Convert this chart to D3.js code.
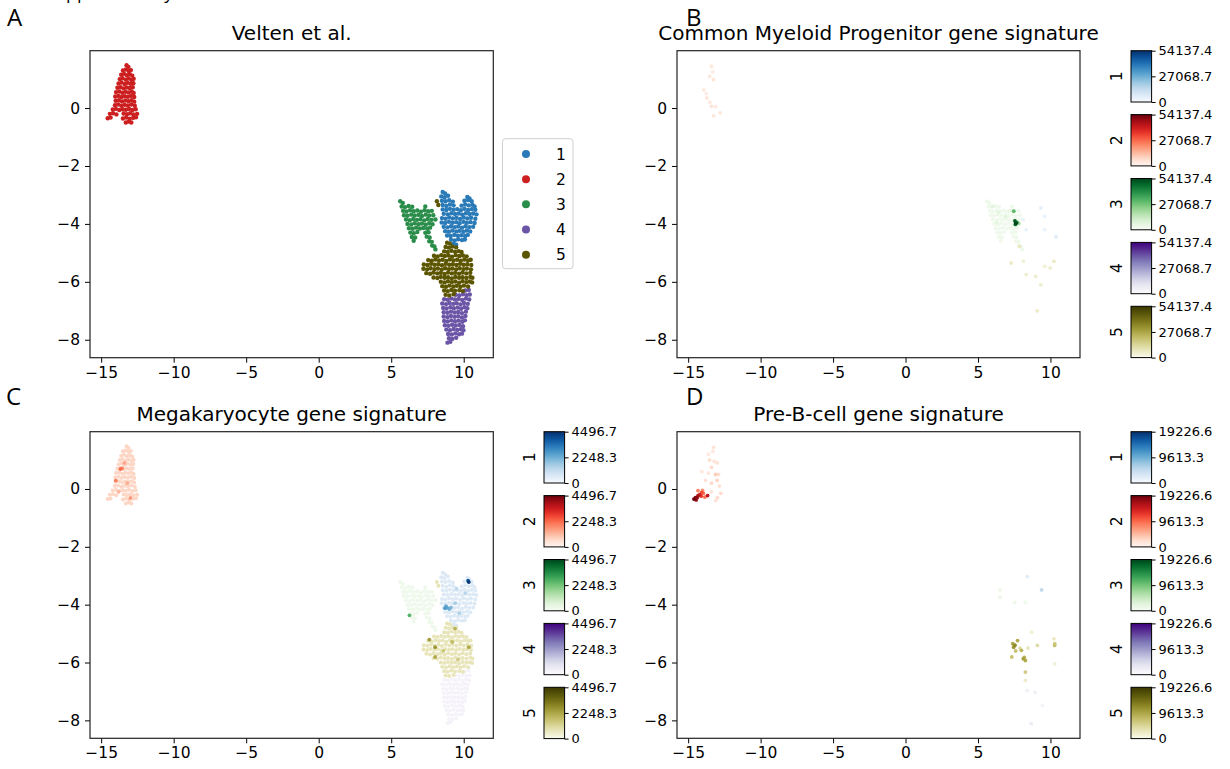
<!DOCTYPE html>
<html><head><meta charset="utf-8">
<script src="https://cdn.jsdelivr.net/npm/d3@7"></script>
<style>
body{margin:0;background:#fff;}
svg text{font-family:"DejaVu Sans",sans-serif;fill:#000;}
</style></head><body>
<svg id="fig" width="1230" height="769"></svg>
<script>
// ---------------- data ----------------
const xDomain = [-15.77, 12.04];
const yDomain = [-8.62, 1.98];
const xTicks = [-15, -10, -5, 0, 5, 10];
const yTicks = [0, -2, -4, -6, -8];
const clusterLabels = ["1", "2", "3", "4", "5"];
const clusterColors = ["#2a7ab8", "#cc1f20", "#2a8d4a", "#6b55a6", "#5b5500"];
const panelLetters = ["A", "B", "C", "D"];
const panelTitles = ["Velten et al.", "Common Myeloid Progenitor gene signature", "Megakaryocyte gene signature", "Pre-B-cell gene signature"];
const headerText = "Supplementary";

// embedding coordinates per cluster (x, y)
const cluster1 = [[8.55,-2.9],[8.72,-2.95],
[8.45,-3.05],[8.68,-3.08],[8.92,-3.03],[10.25,-3.07],[10.4,-3.12],
[8.5,-3.2],[8.75,-3.22],[9.0,-3.18],[9.25,-3.23],[10.05,-3.2],[10.3,-3.18],[10.55,-3.22],
[8.55,-3.35],[8.8,-3.38],[9.05,-3.33],[9.3,-3.36],[9.85,-3.37],[10.1,-3.33],[10.35,-3.36],[10.6,-3.34],[10.75,-3.4],
[8.55,-3.5],[8.8,-3.52],[9.05,-3.48],[9.3,-3.51],[9.55,-3.49],[9.8,-3.53],[10.05,-3.48],[10.3,-3.52],[10.55,-3.49],[10.8,-3.51],
[8.62,-3.65],[8.9,-3.67],[9.15,-3.63],[9.4,-3.66],[9.65,-3.64],[9.9,-3.68],[10.15,-3.63],[10.4,-3.66],[10.65,-3.64],[10.88,-3.67],
[8.5,-3.8],[8.75,-3.82],[9.0,-3.78],[9.25,-3.81],[9.5,-3.79],[9.75,-3.83],[10.0,-3.78],[10.25,-3.81],[10.5,-3.79],[10.8,-3.82],
[8.48,-3.95],[8.72,-3.97],[8.98,-3.93],[9.22,-3.96],[9.48,-3.94],[9.72,-3.98],[9.98,-3.93],[10.22,-3.96],[10.48,-3.94],[10.75,-3.97],
[8.62,-4.1],[8.88,-4.12],[9.12,-4.08],[9.38,-4.11],[9.62,-4.09],[9.88,-4.13],[10.12,-4.08],[10.38,-4.11],[10.65,-4.1],
[8.72,-4.25],[8.98,-4.27],[9.22,-4.23],[9.48,-4.26],[9.72,-4.24],[9.98,-4.27],[10.22,-4.23],[10.45,-4.26],
[8.85,-4.4],[9.1,-4.42],[9.35,-4.38],[9.6,-4.41],[9.85,-4.39],[10.1,-4.42],[10.28,-4.38],
[9.12,-4.55],[9.38,-4.57],[9.62,-4.53],[9.88,-4.56],[10.08,-4.54],
[9.3,-4.68],[9.48,-4.72]];

const cluster2 = [[-13.25,1.48],[-13.12,1.42],
[-13.5,1.3],[-13.3,1.33],[-13.1,1.28],[-12.95,1.31],
[-13.62,1.15],[-13.42,1.18],[-13.22,1.13],[-13.02,1.17],[-12.86,1.12],
[-13.72,1.0],[-13.52,1.03],[-13.3,0.98],[-13.1,1.02],[-12.9,0.97],[-12.76,1.01],
[-13.8,0.85],[-13.6,0.88],[-13.38,0.83],[-13.18,0.87],[-12.97,0.84],[-12.78,0.86],
[-13.88,0.7],[-13.66,0.72],[-13.45,0.68],[-13.24,0.71],[-13.03,0.69],[-12.82,0.72],
[-13.97,0.55],[-13.75,0.57],[-13.54,0.53],[-13.32,0.56],[-13.1,0.54],[-12.9,0.57],[-12.76,0.52],
[-14.03,0.4],[-13.82,0.42],[-13.6,0.38],[-13.38,0.41],[-13.16,0.39],[-12.95,0.42],[-12.72,0.38],
[-14.0,0.25],[-13.78,0.27],[-13.56,0.23],[-13.34,0.26],[-13.12,0.24],[-12.9,0.27],[-12.72,0.22],
[-14.05,0.1],[-13.83,0.12],[-13.6,0.08],[-13.38,0.11],[-13.16,0.09],[-12.93,0.12],[-12.68,0.08],
[-14.2,-0.05],[-13.98,-0.03],[-13.75,-0.07],[-13.52,-0.04],[-13.3,-0.06],[-13.08,-0.03],[-12.85,-0.07],[-12.62,-0.04],
[-14.4,-0.2],[-14.18,-0.18],[-13.95,-0.22],[-13.45,-0.19],[-13.22,-0.21],[-13.0,-0.18],[-12.78,-0.22],[-12.52,-0.2],
[-14.55,-0.35],[-14.35,-0.33],[-13.5,-0.36],[-13.28,-0.33],[-13.05,-0.37],[-12.8,-0.34],[-12.6,-0.32],
[-13.3,-0.5],[-13.1,-0.47],[-12.92,-0.5]];

const cluster3 = [[5.62,-3.22],[5.8,-3.28],
[5.72,-3.4],[5.95,-3.42],[6.2,-3.38],[6.45,-3.41],[7.35,-3.4],
[5.82,-3.55],[6.05,-3.57],[6.3,-3.53],[6.55,-3.56],[6.8,-3.54],[7.05,-3.58],[7.3,-3.53],[7.55,-3.56],[7.8,-3.55],
[5.88,-3.7],[6.12,-3.72],[6.38,-3.68],[6.62,-3.71],[6.88,-3.69],[7.12,-3.73],[7.38,-3.68],[7.62,-3.71],[7.9,-3.7],
[6.02,-3.85],[6.28,-3.87],[6.52,-3.83],[6.78,-3.86],[7.02,-3.84],[7.28,-3.88],[7.52,-3.83],[7.78,-3.86],[8.05,-3.85],
[6.12,-4.0],[6.38,-4.02],[6.62,-3.98],[6.88,-4.01],[7.12,-3.99],[7.38,-4.03],[7.62,-3.98],[7.85,-4.01],
[6.22,-4.15],[6.48,-4.17],[6.72,-4.13],[6.98,-4.16],[7.22,-4.14],[7.48,-4.17],[7.68,-4.13],
[6.32,-4.3],[6.55,-4.32],[6.8,-4.28],[7.35,-4.31],[7.58,-4.29],
[6.42,-4.45],[6.65,-4.47],[7.45,-4.44],[7.65,-4.47],
[6.55,-4.58],[7.62,-4.6],[7.8,-4.62],
[7.82,-4.75],[7.98,-4.78],
[8.05,-4.88]];

const cluster4 = [[10.1,-6.3],[10.35,-6.28],
[9.45,-6.45],[9.7,-6.47],[9.95,-6.43],[10.2,-6.46],[10.42,-6.44],
[8.65,-6.6],[8.9,-6.62],[9.15,-6.58],[9.4,-6.61],[9.65,-6.59],[9.9,-6.63],[10.15,-6.58],[10.38,-6.61],
[8.52,-6.75],[8.78,-6.77],[9.02,-6.73],[9.28,-6.76],[9.52,-6.74],[9.78,-6.78],[10.02,-6.73],[10.28,-6.76],
[8.58,-6.9],[8.82,-6.92],[9.08,-6.88],[9.32,-6.91],[9.58,-6.89],[9.82,-6.93],[10.05,-6.88],[10.25,-6.91],
[8.62,-7.05],[8.88,-7.07],[9.12,-7.03],[9.38,-7.06],[9.62,-7.04],[9.88,-7.08],[10.15,-7.03],
[8.62,-7.2],[8.88,-7.22],[9.12,-7.18],[9.38,-7.21],[9.62,-7.19],[9.88,-7.23],[10.12,-7.18],
[8.65,-7.35],[8.9,-7.37],[9.15,-7.33],[9.4,-7.36],[9.65,-7.34],[9.9,-7.38],[10.08,-7.33],
[8.7,-7.5],[8.95,-7.52],[9.2,-7.48],[9.45,-7.51],[9.7,-7.49],[9.95,-7.53],
[8.8,-7.65],[9.05,-7.67],[9.3,-7.63],[9.55,-7.66],[9.8,-7.64],[9.98,-7.67],
[8.92,-7.8],[9.18,-7.82],[9.42,-7.78],[9.68,-7.81],[9.88,-7.79],
[8.98,-7.95],[9.22,-7.97],[9.48,-7.93],
[8.88,-8.1],[9.08,-8.07]];

const cluster5 = [[8.15,-3.22],[8.25,-3.35],
[8.85,-4.65],[9.05,-4.68],
[8.75,-4.8],[8.98,-4.82],[9.22,-4.78],[9.48,-4.81],
[8.65,-4.95],[8.9,-4.97],[9.15,-4.93],[9.4,-4.96],[9.65,-4.94],[9.85,-4.97],
[7.95,-5.1],[8.2,-5.12],[8.45,-5.08],[8.7,-5.11],[8.95,-5.09],[9.2,-5.13],[9.45,-5.08],[9.7,-5.11],[9.95,-5.09],[10.2,-5.12],
[7.55,-5.25],[7.8,-5.27],[8.05,-5.23],[8.3,-5.26],[8.55,-5.24],[8.8,-5.28],[9.05,-5.23],[9.3,-5.26],[9.55,-5.24],[9.8,-5.27],[10.05,-5.23],[10.3,-5.26],[10.48,-5.24],
[7.25,-5.4],[7.5,-5.42],[7.75,-5.38],[8.0,-5.41],[8.25,-5.39],[8.5,-5.43],[8.75,-5.38],[9.0,-5.41],[9.25,-5.39],[9.5,-5.42],[9.75,-5.38],[10.0,-5.41],[10.25,-5.39],[10.52,-5.42],
[7.22,-5.55],[7.48,-5.57],[7.72,-5.53],[7.98,-5.56],[8.22,-5.54],[8.48,-5.58],[8.72,-5.53],[8.98,-5.56],[9.22,-5.54],[9.48,-5.57],[9.72,-5.53],[9.98,-5.56],[10.22,-5.54],[10.5,-5.57],
[7.42,-5.7],[7.68,-5.72],[7.92,-5.68],[8.18,-5.71],[8.42,-5.69],[8.68,-5.73],[8.92,-5.68],[9.18,-5.71],[9.42,-5.69],[9.68,-5.72],[9.92,-5.68],[10.18,-5.71],[10.45,-5.69],
[7.92,-5.85],[8.18,-5.87],[8.42,-5.83],[8.68,-5.86],[8.92,-5.84],[9.18,-5.88],[9.42,-5.83],[9.68,-5.86],[9.92,-5.84],[10.18,-5.87],[10.45,-5.83],[10.6,-5.86],
[8.42,-6.0],[8.68,-6.02],[8.92,-5.98],[9.18,-6.01],[9.42,-5.99],[9.68,-6.03],[9.92,-5.98],[10.18,-6.01],[10.42,-5.99],[10.58,-6.02],
[8.52,-6.15],[8.78,-6.17],[9.02,-6.13],[9.28,-6.16],[9.52,-6.14],[9.78,-6.17],[10.02,-6.13],[10.3,-6.16],
[8.65,-6.3],[8.9,-6.32],[9.15,-6.28],[9.4,-6.31],[9.7,-6.29],[9.95,-6.32],
[8.75,-6.45],[9.0,-6.47],[9.3,-6.43]];

// gene-signature scores: per-cluster background level and individual cells [x, y, cluster, value]
const cmpMax = 54137.4;
const cmpTickLabels = ["0", "27068.7", "54137.4"];
const cmpBase = [0, 0, 3200, 0, 0];
const cmpCells = [
[-13.39,1.44,2,4500],[-13.3,1.25,2,3500],[-13.52,1.09,2,4000],[-13.25,0.98,2,5000],[-13.92,0.63,2,4000],[-13.75,0.5,2,3500],
[-13.71,0.35,2,4500],[-13.5,0.2,2,3500],[-13.39,0.06,2,5000],[-13.25,-0.27,2,4500],[-12.79,-0.17,2,4000],[-13.1,0.05,2,3500],
[6.0,-3.4,3,7000],[6.4,-3.6,3,6500],[6.9,-3.75,3,7000],[6.3,-3.95,3,6000],[7.2,-3.55,3,6000],
[7.47,-3.56,3,30000],[7.8,-3.98,3,20000],[7.55,-3.9,3,50000],[7.62,-3.98,3,54000],[7.68,-3.95,3,42000],[7.58,-4.02,3,46000],
[9.34,-3.45,1,5000],[9.6,-3.74,1,4000],[8.13,-3.86,1,3500],[8.33,-4.2,1,3500],[10.38,-4.45,1,6000],[9.6,-4.2,1,3500],
[7.86,-4.78,5,7000],[7.29,-5.35,5,6000],[8.13,-5.29,5,4000],[8.33,-5.75,5,5000],[8.98,-5.81,5,5000],[9.6,-5.47,5,4000],
[9.98,-5.52,5,5000],[10.24,-5.29,5,6000],[9.34,-6.1,5,5000],[9.09,-7.0,5,6000]];

const megaMax = 4496.7;
const megaTickLabels = ["0", "2248.3", "4496.7"];
const megaBase = [600, 700, 250, 300, 700];
const megaCells = [
[-13.67,0.69,2,2200],[-13.55,0.72,2,1800],[-13.99,0.29,2,2000],[-12.99,-0.31,2,1600],[-13.4,0.9,2,1400],[-13.2,0.2,2,1300],[-13.8,-0.1,2,1200],
[10.35,-3.22,1,4400],[10.3,-3.17,1,3800],[8.71,-4.12,1,2600],[8.85,-4.1,1,2400],[9.0,-4.15,1,2200],[9.12,-4.1,1,2000],[8.78,-4.05,1,2300],
[9.4,-3.95,1,1500],[9.7,-4.3,1,1400],[10.1,-3.6,1,1300],[9.5,-3.45,1,1200],
[6.26,-4.37,3,2600],
[7.63,-5.21,5,2400],[8.03,-5.47,5,2600],[8.03,-5.81,5,2200],[9.4,-4.83,5,2000],[10.35,-5.47,5,2200],[9.2,-5.29,5,1800],[8.6,-5.6,5,1500],[9.6,-5.9,5,1400]];

const preBMax = 19226.6;
const preBTickLabels = ["0", "9613.3", "19226.6"];
const preBBase = [0, 0, 0, 0, 0];
const preBCells = [
[-13.25,1.44,2,2000],[-13.3,1.3,2,1500],[-13.52,1.0,2,2500],[-12.98,0.9,2,2000],[-13.11,0.5,2,3500],[-13.39,0.2,2,2500],
[-12.85,0.1,2,2000],[-12.98,-0.3,2,2500],[-13.8,0.3,2,2000],[-14.06,0.6,2,1500],[-13.39,0.75,2,2500],[-13.2,0.95,2,1800],
[-12.9,0.5,2,2200],[-13.6,0.55,2,1600],[-13.4,-0.1,2,2000],[-12.75,-0.15,2,2400],[-13.1,-0.4,2,1800],[-13.6,1.2,2,1200],[-13.0,0.3,2,3000],
[-14.32,-0.06,2,8000],[-14.0,-0.05,2,7000],[-13.85,-0.28,2,9000],[-13.95,-0.15,2,9000],[-14.06,-0.12,2,11000],[-14.1,-0.25,2,12000],
[-13.66,-0.23,2,15000],[-14.2,-0.2,2,14000],[-14.32,-0.23,2,16000],[-14.38,-0.3,2,17000],[-14.45,-0.38,2,17500],[-14.5,-0.3,2,18000],[-14.6,-0.35,2,19000],
[8.7,-4.95,5,1500],[10.3,-6.05,5,1500],[8.27,-6.62,5,2000],[10.24,-5.18,5,2500],[8.45,-5.5,5,3000],[9.1,-5.41,5,4000],[7.9,-5.5,5,4000],
[8.27,-6.33,5,6000],[10.3,-5.35,5,6000],[7.33,-5.81,5,7000],[7.6,-5.6,5,7000],[10.29,-5.41,5,7000],[8.0,-5.58,5,8000],[8.2,-5.82,5,8500],
[7.73,-5.24,5,9000],[8.27,-5.93,5,9000],[7.4,-5.35,5,9500],[8.13,-5.87,5,10000],[7.46,-5.47,5,11000],[7.55,-5.4,5,12000],
[9.39,-3.49,1,5000],[8.4,-3.03,1,2000],
[6.52,-3.49,3,1500],[6.52,-3.74,3,1500],[7.54,-3.92,3,1200],[8.27,-3.92,3,1000],
[8.4,-6.97,4,2000],[8.94,-7.03,4,2000],[9.45,-7.49,4,1500],[8.67,-8.11,4,2500]];

const oliveStops = ["#fbfbee", "#dcd89a", "#b0a840", "#706b10", "#3b3800"];

// ---------------- drawing ----------------
const svg = d3.select("#fig");
const clusters = [cluster1, cluster2, cluster3, cluster4, cluster5];
const olive = d3.interpolateRgbBasis(oliveStops);
const cmaps = [d3.interpolateBlues, d3.interpolateReds, d3.interpolateGreens, d3.interpolatePurples, olive];

const boxes = [
  {x0: 90, x1: 493.3, y0: 50.7, y1: 357.7},
  {x0: 677, x1: 1080, y0: 50.7, y1: 357.7},
  {x0: 90, x1: 493.3, y0: 431.7, y1: 738.3},
  {x0: 677, x1: 1080, y0: 431.7, y1: 738.3}
];
const letterPos = [[7, 26], [686, 26], [6, 405], [686, 405]];
const defs = svg.append("defs");

svg.append("text").attr("x", 45).attr("y", -1.5)
  .style("font-family", "'Open Sans', sans-serif").style("font-size", "18px").text(headerText);

function makePanel(i) {
  const b = boxes[i];
  const g = svg.append("g");
  const x = d3.scaleLinear().domain(xDomain).range([b.x0, b.x1]);
  const y = d3.scaleLinear().domain(yDomain).range([b.y1, b.y0]);
  const ax = g.append("g").attr("transform", `translate(0,${b.y1})`)
    .call(d3.axisBottom(x).tickValues(xTicks).tickSize(5).tickPadding(4).tickSizeOuter(0));
  const ay = g.append("g").attr("transform", `translate(${b.x0},0)`)
    .call(d3.axisLeft(y).tickValues(yTicks).tickSize(5).tickPadding(5).tickSizeOuter(0));
  [ax, ay].forEach(a => {
    a.attr("font-family", null).attr("font-size", null);
    a.select(".domain").remove();
    a.selectAll("line").attr("stroke", "#000").attr("stroke-width", 1);
    a.selectAll("text").style("font-size", "15.5px").attr("fill", "#000");
  });
  const plot = g.append("g");
  g.append("rect").attr("x", b.x0).attr("y", b.y0).attr("width", b.x1 - b.x0).attr("height", b.y1 - b.y0)
    .attr("fill", "none").attr("stroke", "#222").attr("stroke-width", 1.2);
  g.append("text").attr("x", (b.x0 + b.x1) / 2).attr("y", b.y0 - 10.5).attr("text-anchor", "middle")
    .style("font-size", "20px").text(panelTitles[i]);
  svg.append("text").attr("x", letterPos[i][0]).attr("y", letterPos[i][1])
    .style("font-family", "'Open Sans', sans-serif").style("font-size", "24px").text(panelLetters[i]);
  return {plot, x, y};
}

// Panel A: clusters
{
  const {plot, x, y} = makePanel(0);
  clusters.forEach((pts, k) => {
    plot.append("g").selectAll("circle").data(pts).join("circle")
      .attr("cx", d => x(d[0])).attr("cy", d => y(d[1])).attr("r", 2.2)
      .attr("fill", clusterColors[k]);
  });
  // legend
  const lg = svg.append("g");
  lg.append("rect").attr("x", 502.5).attr("y", 138.7).attr("width", 70.5).attr("height", 130)
    .attr("rx", 3).attr("fill", "#fff").attr("stroke", "#cfcfcf").attr("stroke-width", 1);
  const rowY = d3.scalePoint().domain(clusterLabels).range([154, 254.7]);
  clusterLabels.forEach((lab, k) => {
    lg.append("circle").attr("cx", 526).attr("cy", rowY(lab)).attr("r", 4).attr("fill", clusterColors[k]);
    lg.append("text").attr("x", 556).attr("y", rowY(lab)).attr("dy", "0.36em")
      .style("font-size", "15.5px").text(lab);
  });
}

function scorePanel(i, base, cells, max, tickLabels, cbX) {
  const {plot, x, y} = makePanel(i);
  clusters.forEach((pts, k) => {
    if (base[k] <= 0) return;   // zero-score cells are white, invisible on the page
    plot.append("g").selectAll("circle").data(pts).join("circle")
      .attr("cx", d => x(d[0])).attr("cy", d => y(d[1])).attr("r", 2.0)
      .attr("fill", cmaps[k](base[k] / max));
  });
  plot.append("g").selectAll("circle").data(cells.slice().sort((a, b) => a[3] - b[3])).join("circle")
    .attr("cx", d => x(d[0])).attr("cy", d => y(d[1])).attr("r", 1.9)
    .attr("fill", d => cmaps[d[2] - 1](d[3] / max));

  // colorbars
  const b = boxes[i];
  const h = 51.3, step = 63.9, w = 20.6;
  clusterLabels.forEach((lab, k) => {
    const id = `grad${i}_${k}`;
    const grad = defs.append("linearGradient").attr("id", id)
      .attr("x1", 0).attr("y1", 1).attr("x2", 0).attr("y2", 0);
    d3.range(0, 1.0001, 0.05).forEach(t => grad.append("stop").attr("offset", t).attr("stop-color", cmaps[k](t)));
    const top = b.y0 + k * step;
    svg.append("rect").attr("x", cbX).attr("y", top).attr("width", w).attr("height", h)
      .attr("fill", `url(#${id})`).attr("stroke", "#000").attr("stroke-width", 1);
    const s = d3.scaleLinear().domain([0, max]).range([top + h, top]);
    const a = svg.append("g").attr("transform", `translate(${cbX + w},0)`)
      .call(d3.axisRight(s).tickValues([0, max / 2, max]).tickFormat((d, j) => tickLabels[j])
        .tickSize(4).tickPadding(3).tickSizeOuter(0));
    a.attr("font-family", null).attr("font-size", null);
    a.select(".domain").remove();
    a.selectAll("line").attr("stroke", "#000");
    a.selectAll("text").style("font-size", "13px").attr("fill", "#000");
    svg.append("text").attr("transform", `translate(${cbX - 15},${top + h / 2}) rotate(-90)`)
      .attr("text-anchor", "middle").attr("dy", "0.36em").style("font-size", "15.5px").text(lab);
  });
}

scorePanel(1, cmpBase, cmpCells, cmpMax, cmpTickLabels, 1131);
scorePanel(2, megaBase, megaCells, megaMax, megaTickLabels, 544);
scorePanel(3, preBBase, preBCells, preBMax, preBTickLabels, 1131);
</script>
</body></html>
